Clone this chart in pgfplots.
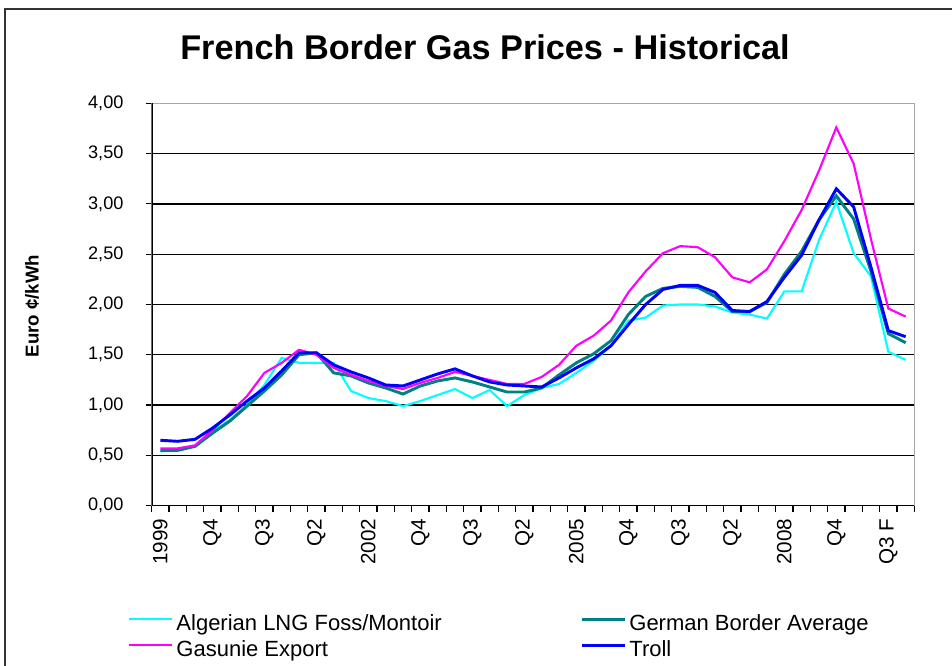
\documentclass[border=0pt]{standalone}
\usepackage{fontspec}
\setmainfont{Liberation Sans}
\usepackage{pgfplots}
\usepackage{pgfplotstable}
\pgfplotsset{compat=1.18}

\pgfplotstableread{
i alg ger gas troll
0 0.54 0.55 0.57 0.65
1 0.55 0.55 0.57 0.64
2 0.59 0.59 0.60 0.66
3 0.74 0.72 0.75 0.77
4 0.85 0.84 0.92 0.90
5 1.00 0.99 1.09 1.04
6 1.20 1.14 1.32 1.17
7 1.47 1.30 1.42 1.34
8 1.42 1.50 1.55 1.52
9 1.42 1.52 1.50 1.52
10 1.42 1.32 1.37 1.40
11 1.14 1.29 1.30 1.33
12 1.07 1.22 1.24 1.27
13 1.04 1.17 1.19 1.20
14 0.99 1.11 1.16 1.19
15 1.04 1.19 1.22 1.25
16 1.10 1.24 1.27 1.31
17 1.16 1.27 1.33 1.36
18 1.07 1.23 1.29 1.29
19 1.15 1.18 1.25 1.23
20 0.99 1.13 1.21 1.20
21 1.10 1.13 1.21 1.19
22 1.17 1.17 1.28 1.18
23 1.21 1.30 1.40 1.27
24 1.32 1.42 1.59 1.37
25 1.44 1.51 1.69 1.46
26 1.59 1.64 1.84 1.59
27 1.84 1.90 2.12 1.80
28 1.87 2.08 2.33 2.00
29 1.99 2.16 2.51 2.15
30 2.00 2.18 2.58 2.19
31 2.00 2.17 2.57 2.19
32 1.98 2.08 2.47 2.12
33 1.92 1.93 2.27 1.94
34 1.90 1.93 2.22 1.93
35 1.86 2.02 2.35 2.03
36 2.13 2.30 2.63 2.27
37 2.13 2.53 2.94 2.49
38 2.64 2.84 3.33 2.84
39 3.02 3.08 3.76 3.15
40 2.51 2.85 3.40 2.97
41 2.28 2.33 2.65 2.37
42 1.53 1.71 1.96 1.74
43 1.45 1.62 1.88 1.68
}\datatable

\definecolor{algc}{RGB}{0,255,255}
\definecolor{gerc}{RGB}{0,128,128}
\definecolor{gasc}{RGB}{255,0,255}
\definecolor{trollc}{RGB}{0,0,255}

\begin{document}
\begin{tikzpicture}[x=0.75pt,y=0.75pt]
\path[use as bounding box] (0,0) rectangle (952,666);
\draw[black!80, line width=1.5pt] (5,-10) -- (5,657) -- (962,657);
\node[font=\bfseries\fontsize{14}{16}\selectfont, rotate=90] at (32,360) {Euro ¢/kWh};
\node[font=\bfseries\fontsize{25.7}{30}\selectfont, anchor=base] at (485,606) {French Border Gas Prices - Historical};
\begin{axis}[
  at={(113.78pt,120.23pt)}, anchor=south west,
  scale only axis, width=571.95pt, height=301.8pt,
  xmin=-0.5, xmax=43.5, ymin=0, ymax=4,
  ytick={0,0.5,...,4},
  xtick={0,3,...,42},
  xticklabels={1999,Q4,Q3,Q2,2002,Q4,Q3,Q2,2005,Q4,Q3,Q2,2008,Q4,Q3 F},
  minor xtick={-0.5,0.5,...,43.5},
  xtick pos=bottom, ytick pos=left,
  tick align=outside,
  major tick length=4.5pt, minor tick length=4.5pt,
  x tick style={draw=none}, minor x tick style={draw=black, line width=0.9pt},
  y tick style={black, line width=0.9pt},
  ymajorgrids, major grid style={black, line width=1pt},
  axis line style={draw=gray!70, line width=1pt},
  /pgf/number format/assume math mode=true,
  y tick label style={/pgf/number format/fixed, /pgf/number format/fixed zerofill, /pgf/number format/precision=2, /pgf/number format/use comma, font=\fontsize{13.6}{16}\selectfont, anchor=east, inner sep=0pt, xshift=-16.5pt},
  x tick label style={font=\fontsize{15.5}{18}\selectfont, yshift=-5pt, rotate=90, anchor=east, inner sep=0pt},
  legend columns=2,
  legend style={at={(-0.031,-0.269)}, anchor=north west, draw=none, fill=none, inner sep=0pt,
    font=\fontsize{16.5}{19}\selectfont,
    nodes={inner sep=0pt, text height=12pt, text depth=3.5pt},
    row sep=4pt,
    /tikz/every odd column/.append style={column sep=2.5pt},
    /tikz/every even column/.append style={column sep=104pt}},
  legend cell align=left,
  legend image code/.code={\draw[#1] (0pt,4pt) -- (32pt,4pt);},
]
\addplot[algc, line width=1.6pt] table[x=i, y=alg] {\datatable};
\addlegendentry{Algerian LNG Foss/Montoir}
\addplot[gerc, line width=2.2pt] table[x=i, y=ger] {\datatable};
\addlegendentry{German Border Average}
\addplot[gasc, line width=1.6pt] table[x=i, y=gas] {\datatable};
\addlegendentry{Gasunie Export}
\addplot[trollc, line width=2.2pt] table[x=i, y=troll] {\datatable};
\addlegendentry{Troll}
\draw[gray!70, line width=1.2pt] (rel axis cs:0,1) -- (rel axis cs:1,1);
\draw[black, line width=1.2pt] (rel axis cs:0,1) -- (rel axis cs:0,0) -- (rel axis cs:1,0);
\end{axis}
\end{tikzpicture}
\end{document}
